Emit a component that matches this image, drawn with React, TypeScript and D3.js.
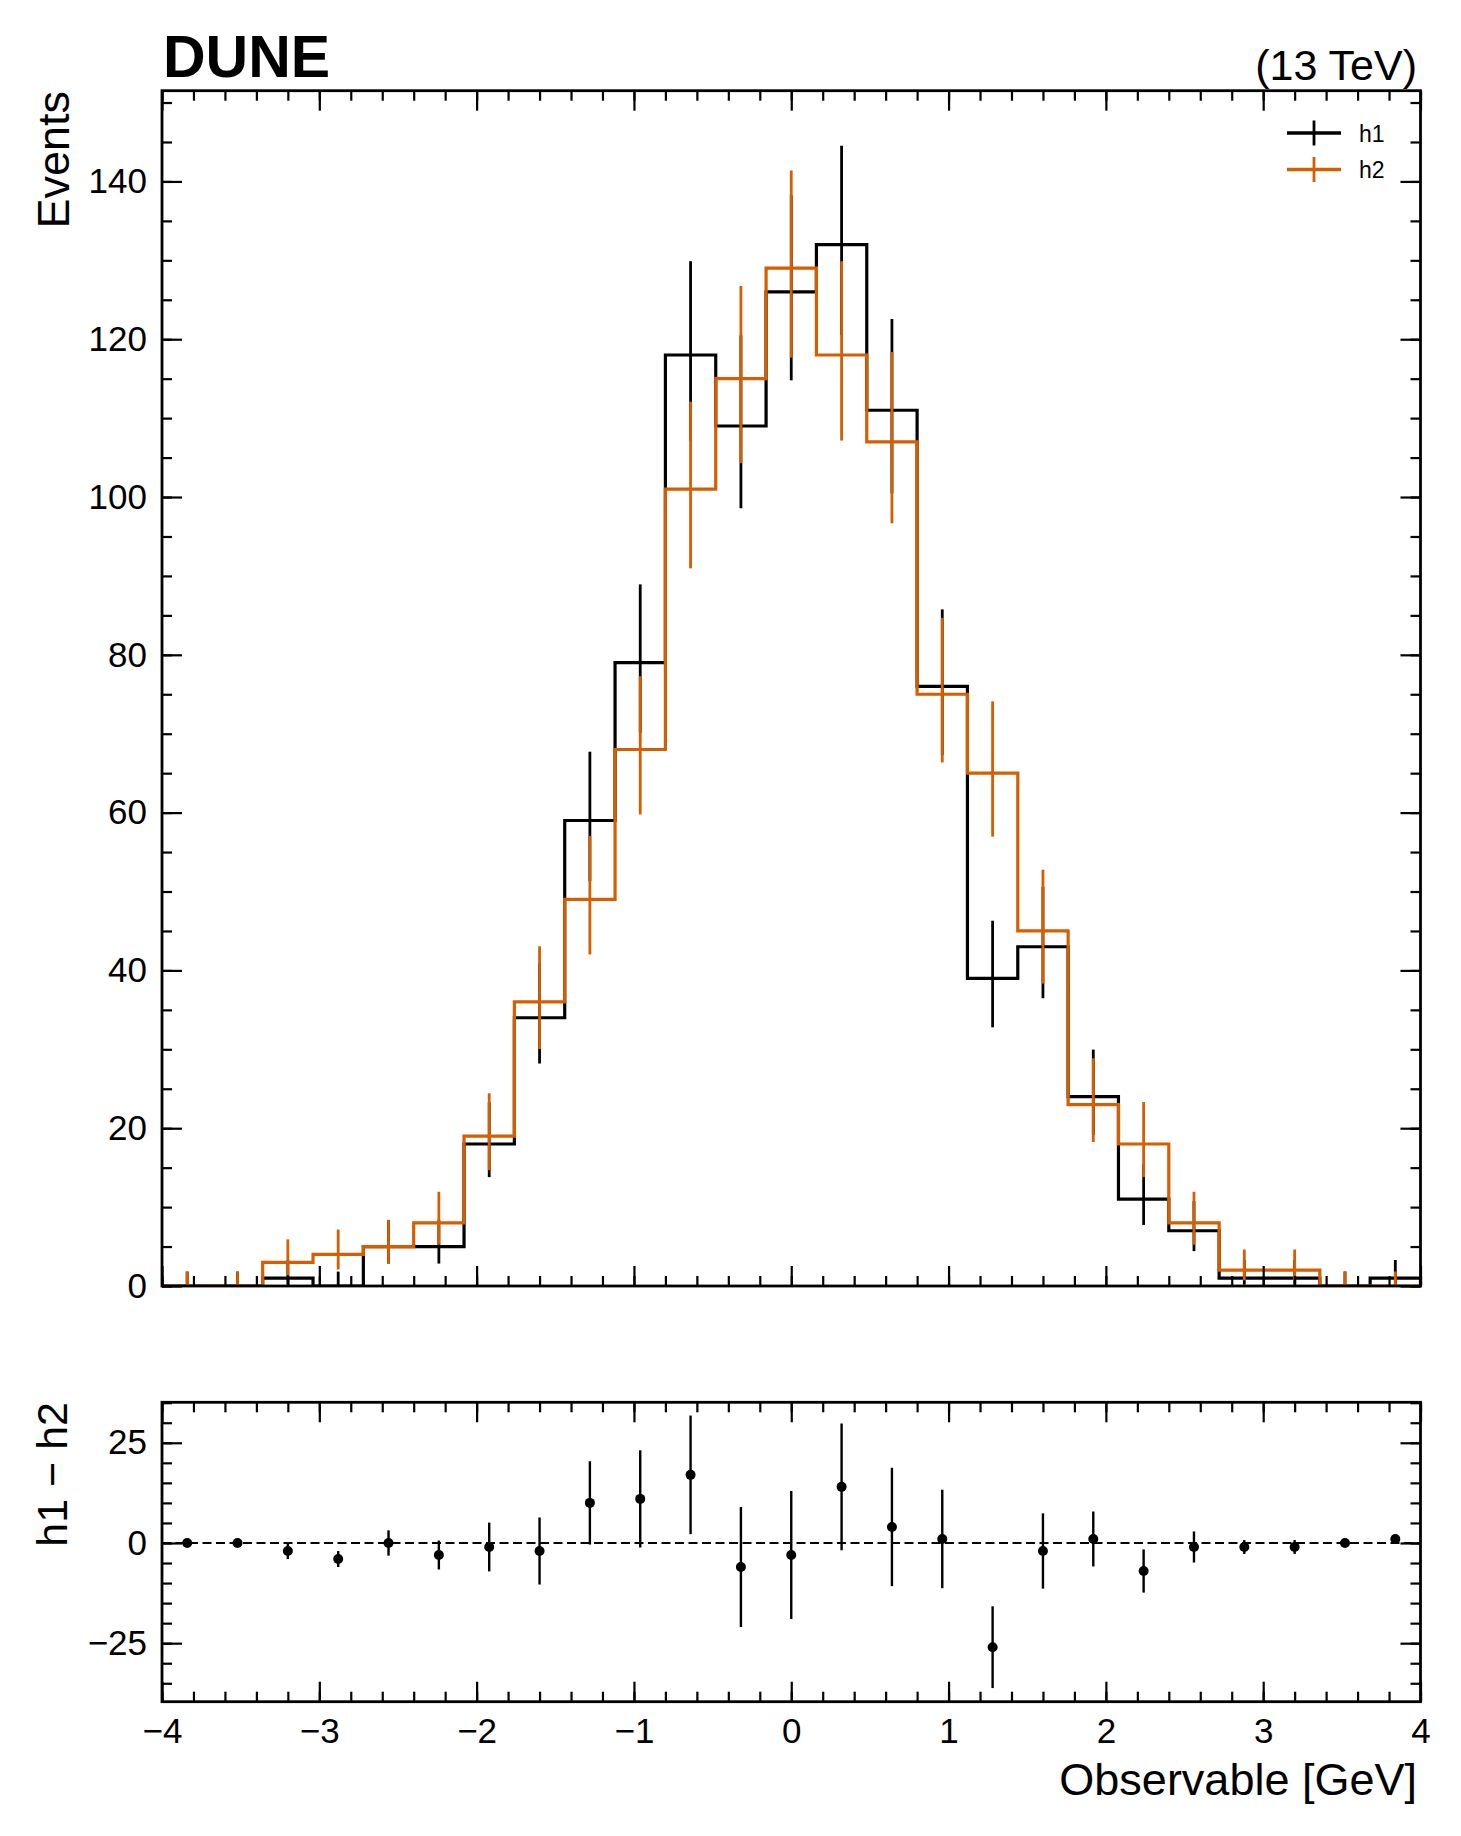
import React, { useEffect, useRef } from 'react';
import * as d3 from 'd3';

// bin edges of the observable (GeV), 25 bins
const binEdges = [
  -4, -3.68, -3.36, -3.04, -2.72, -2.4, -2.08, -1.76, -1.44, -1.12, -0.8, -0.48, -0.16,
  0.16, 0.48, 0.8, 1.12, 1.44, 1.76, 2.08, 2.4, 2.72, 3.04, 3.36, 3.68, 4,
];
const h1Counts = [0, 0, 1, 0, 5, 5, 18, 34, 59, 79, 118, 109, 126, 132, 111, 76, 39, 43, 24, 11, 7, 1, 1, 0, 1];
const h2Counts = [0, 0, 3, 4, 5, 8, 19, 36, 49, 68, 101, 115, 129, 118, 107, 75, 65, 45, 23, 18, 8, 2, 2, 0, 0];
const seriesNames = ['h1', 'h2'];
const seriesColors = ['#000000', '#D55E00'];

const xTicks = [-4, -3, -2, -1, 0, 1, 2, 3, 4];
const mainYTicks = [0, 20, 40, 60, 80, 100, 120, 140];
const ratioYTicks = [-25, 0, 25];

const W = 1461;
const H = 1836;
const FONT = '"Liberation Sans", Arial, Helvetica, sans-serif';

// 68% Poisson interval (Gehrels approximation), as used for count error bars
function poissonInterval(n: number): [number, number] {
  const lo = n === 0 ? 0 : n * Math.pow(1 - 1 / (9 * n) - 1 / (3 * Math.sqrt(n)), 3);
  const hi = (n + 1) * Math.pow(1 - 1 / (9 * (n + 1)) + 1 / (3 * Math.sqrt(n + 1)), 3);
  return [lo, hi];
}

type Sel = d3.Selection<SVGGElement, unknown, null, undefined>;

function styleAxis(a: Sel, fontSize = 35) {
  a.select('.domain').remove();
  a.selectAll('line').attr('stroke', '#000').attr('stroke-width', 2.2);
  a.attr('font-family', FONT).attr('font-size', fontSize);
  a.selectAll('text').attr('fill', '#000');
}

// ticks on all four sides, pointing inwards
function drawTicks(
  g: Sel,
  x: d3.ScaleLinear<number, number>,
  y: d3.ScaleLinear<number, number>,
  yMajor: number[],
  yMinorStep: number,
  showXLabels: boolean,
) {
  const [xl, xr] = x.range();
  const [yb, yt] = y.range();
  const xMinor = d3.range(-20, 21).map(d => d / 5);
  const [d0, d1] = y.domain();
  const yMinor = d3.range(Math.ceil(d0 / yMinorStep), Math.floor(d1 / yMinorStep) + 1).map(d => d * yMinorStep);
  const none = () => '';

  // bottom
  g.append('g').attr('transform', `translate(0,${yb})`)
    .call(d3.axisBottom(x).tickValues(xMinor).tickSize(-10).tickFormat(none)).call(styleAxis);
  g.append('g').attr('transform', `translate(0,${yb})`)
    .call(d3.axisBottom(x).tickValues(xTicks).tickSize(-20).tickPadding(16.5)
      .tickFormat(showXLabels ? (d3.format('d') as any) : none))
    .call(styleAxis);
  // top
  g.append('g').attr('transform', `translate(0,${yt})`)
    .call(d3.axisTop(x).tickValues(xMinor).tickSize(-10).tickFormat(none)).call(styleAxis);
  g.append('g').attr('transform', `translate(0,${yt})`)
    .call(d3.axisTop(x).tickValues(xTicks).tickSize(-20).tickFormat(none)).call(styleAxis);
  // left
  g.append('g').attr('transform', `translate(${xl},0)`)
    .call(d3.axisLeft(y).tickValues(yMinor).tickSize(-10).tickFormat(none)).call(styleAxis);
  g.append('g').attr('transform', `translate(${xl},0)`)
    .call(d3.axisLeft(y).tickValues(yMajor).tickSize(-20).tickPadding(15).tickFormat(d3.format('d') as any))
    .call(styleAxis);
  // right
  g.append('g').attr('transform', `translate(${xr},0)`)
    .call(d3.axisRight(y).tickValues(yMinor).tickSize(-10).tickFormat(none)).call(styleAxis);
  g.append('g').attr('transform', `translate(${xr},0)`)
    .call(d3.axisRight(y).tickValues(yMajor).tickSize(-20).tickFormat(none)).call(styleAxis);

  // frame
  g.append('rect')
    .attr('x', xl).attr('y', yt)
    .attr('width', xr - xl).attr('height', yb - yt)
    .attr('fill', 'none').attr('stroke', '#000').attr('stroke-width', 2.8);
}

const App: React.FC = () => {
  const svgRef = useRef<SVGSVGElement>(null);

  useEffect(() => {
    if (!svgRef.current) return;
    const svg = d3.select(svgRef.current);
    svg.selectAll('*').remove();

    const left = 162;
    const right = 1420.5;
    const x = d3.scaleLinear().domain([-4, 4]).range([left, right]);
    const yMain = d3.scaleLinear().domain([0, 151.5]).range([1286, 90.7]);
    const yRatio = d3.scaleLinear().domain([-39.6, 35.1]).range([1701.7, 1402.3]);

    const centers = binEdges.slice(0, -1).map((e, i) => (e + binEdges[i + 1]) / 2);

    svg.append('defs').append('clipPath').attr('id', 'main-clip')
      .append('rect').attr('x', left).attr('y', 90.7).attr('width', right - left).attr('height', 1286 - 90.7);

    // ---- main panel ----
    const main = svg.append('g');
    const plot = main.append('g').attr('clip-path', 'url(#main-clip)');

    const step = d3.line<[number, number]>()
      .x(d => x(d[0]))
      .y(d => yMain(d[1]))
      .curve(d3.curveStepAfter);

    [h1Counts, h2Counts].forEach((counts, s) => {
      const pts: [number, number][] = [[binEdges[0], 0]];
      counts.forEach((c, i) => pts.push([binEdges[i], c]));
      pts.push([binEdges[binEdges.length - 1], counts[counts.length - 1]]);
      pts.push([binEdges[binEdges.length - 1], 0]);

      plot.append('path')
        .datum(pts)
        .attr('fill', 'none')
        .attr('stroke', seriesColors[s])
        .attr('stroke-width', 3.2)
        .attr('stroke-linejoin', 'miter')
        .attr('d', step);

      plot.append('g')
        .selectAll('line')
        .data(counts)
        .join('line')
        .attr('x1', (_, i) => x(centers[i]))
        .attr('x2', (_, i) => x(centers[i]))
        .attr('y1', c => yMain(poissonInterval(c)[0]))
        .attr('y2', c => yMain(poissonInterval(c)[1]))
        .attr('stroke', seriesColors[s])
        .attr('stroke-width', 2.8);
    });

    drawTicks(main, x, yMain, mainYTicks, 5, false);

    // legend
    const legend = main.append('g');
    seriesNames.forEach((name, i) => {
      const ly = 133 + i * 36.5;
      legend.append('line')
        .attr('x1', 1287).attr('x2', 1341).attr('y1', ly).attr('y2', ly)
        .attr('stroke', seriesColors[i]).attr('stroke-width', 3.3);
      legend.append('line')
        .attr('x1', 1314).attr('x2', 1314).attr('y1', ly - 12.5).attr('y2', ly + 12.5)
        .attr('stroke', seriesColors[i]).attr('stroke-width', 2.8);
      legend.append('text')
        .attr('x', 1359).attr('y', ly + 8.7)
        .attr('font-family', FONT).attr('font-size', 23)
        .attr('fill', '#000')
        .text(name);
    });

    // ---- ratio panel ----
    const ratio = svg.append('g');
    const diff = h1Counts.map((c, i) => c - h2Counts[i]);
    const diffErr = h1Counts.map((c, i) => Math.sqrt(c + h2Counts[i]));

    ratio.append('line')
      .attr('x1', left).attr('x2', right)
      .attr('y1', yRatio(0)).attr('y2', yRatio(0))
      .attr('stroke', '#000').attr('stroke-width', 1.8)
      .attr('stroke-dasharray', '9,4.5');

    ratio.append('g').selectAll('line')
      .data(diff)
      .join('line')
      .attr('x1', (_, i) => x(centers[i]))
      .attr('x2', (_, i) => x(centers[i]))
      .attr('y1', (d, i) => yRatio(d - diffErr[i]))
      .attr('y2', (d, i) => yRatio(d + diffErr[i]))
      .attr('stroke', '#000').attr('stroke-width', 2.4);

    ratio.append('g').selectAll('circle')
      .data(diff)
      .join('circle')
      .attr('cx', (_, i) => x(centers[i]))
      .attr('cy', d => yRatio(d))
      .attr('r', 5)
      .attr('fill', '#000');

    drawTicks(ratio, x, yRatio, ratioYTicks, 5, true);

    // ---- texts ----
    svg.append('text')
      .attr('x', 163).attr('y', 76.5)
      .attr('font-family', FONT).attr('font-weight', 'bold').attr('font-size', 59)
      .text('DUNE');
    svg.append('text')
      .attr('x', 1417).attr('y', 80)
      .attr('text-anchor', 'end')
      .attr('font-family', FONT).attr('font-size', 43)
      .text('(13 TeV)');
    svg.append('text')
      .attr('transform', 'translate(69,91) rotate(-90)')
      .attr('text-anchor', 'end')
      .attr('font-family', FONT).attr('font-size', 45)
      .text('Events');
    svg.append('text')
      .attr('transform', 'translate(67,1402) rotate(-90)')
      .attr('text-anchor', 'end')
      .attr('font-family', FONT).attr('font-size', 43)
      .text('h1 − h2');
    svg.append('text')
      .attr('x', 1417).attr('y', 1795)
      .attr('text-anchor', 'end')
      .attr('font-family', FONT).attr('font-size', 45)
      .text('Observable [GeV]');
  }, []);

  return (
    <svg
      ref={svgRef}
      width={W}
      height={H}
      style={{ position: 'absolute', left: 0, top: 0, background: '#fff' }}
    />
  );
};

export default App;
